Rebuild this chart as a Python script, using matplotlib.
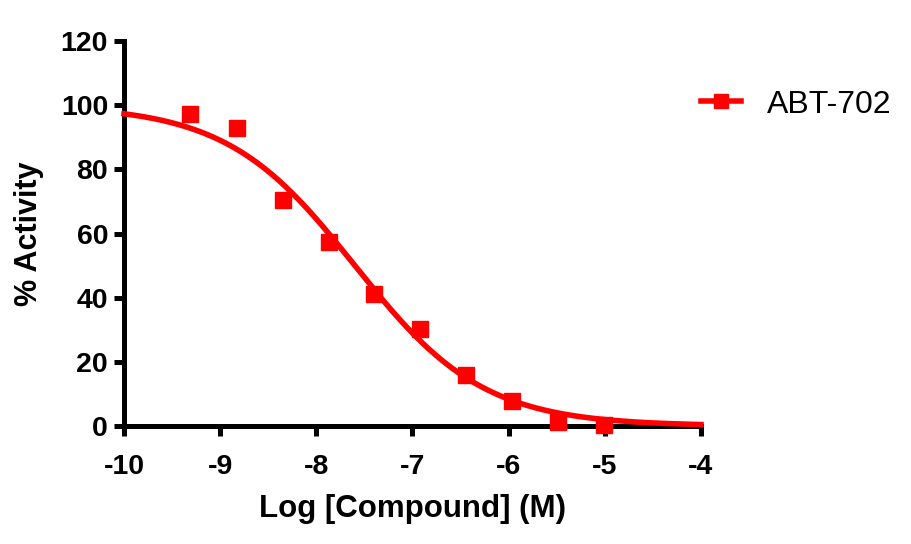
import numpy as np
import matplotlib
matplotlib.use("Agg")
import matplotlib.pyplot as plt

plt.rcParams['font.family'] = ['Liberation Sans', 'DejaVu Sans']

# Data
log_conc = [-9.31, -8.83, -8.35, -7.87, -7.40, -6.92, -6.44, -5.97, -5.49, -5.01]
activity = [97.2, 92.8, 70.4, 57.3, 41.2, 30.2, 16.0, 7.8, 1.4, 0.2]
series_name = "ABT-702"
# Fitted 4-parameter logistic curve parameters
fit_top = 100.0
fit_bottom = 0.0
fit_logic50 = -7.6
fit_hill = 0.65

xticks = [-10, -9, -8, -7, -6, -5, -4]
yticks = [0, 20, 40, 60, 80, 100, 120]

fig = plt.figure(figsize=(9.12, 5.44), dpi=100)
ax = fig.add_axes([124/912, 1-426/544, (701-124)/912, (426-41)/544])

xc = np.linspace(xticks[0], xticks[-1], 400)
yc = fit_bottom + (fit_top - fit_bottom) / (1 + 10 ** ((xc - fit_logic50) * fit_hill))

red = '#FF0000'
ax.plot(xc, yc, color=red, lw=4, zorder=5, clip_on=False)
ax.plot(log_conc, activity, ls='none', marker='s', ms=11.5, color=red,
        zorder=6, clip_on=False)
# legend proxy
ax.plot([], [], color=red, lw=4, marker='s', ms=10, label=series_name)

ax.set_xlim(-10, -4)
ax.set_ylim(0, 120)
ax.set_xticks(xticks)
ax.set_yticks(yticks)
ax.set_xticklabels([str(t) for t in xticks])
ax.set_yticklabels([str(t) for t in yticks])

for s in ['top', 'right']:
    ax.spines[s].set_visible(False)
for s in ['left', 'bottom']:
    ax.spines[s].set_linewidth(3.6)
    ax.spines[s].set_capstyle('projecting')

ax.tick_params(axis='both', which='major', direction='out', length=7.5, width=3.6,
               labelsize=20.5)
ax.tick_params(axis='x', pad=13)
ax.tick_params(axis='y', pad=4)
for lab in ax.get_xticklabels() + ax.get_yticklabels():
    lab.set_fontweight('bold')

ax.set_xlabel('Log [Compound] (M)', fontsize=22.5, fontweight='bold', labelpad=10)
ax.set_ylabel('% Activity', fontsize=22, fontweight='bold', labelpad=12)

leg = ax.legend(loc='center left', bbox_to_anchor=(1.0, 0.835), frameon=False,
                fontsize=23, handlelength=1.25, handletextpad=0.8,
                borderpad=0, borderaxespad=0)

fig.savefig('out.png', dpi=100)
